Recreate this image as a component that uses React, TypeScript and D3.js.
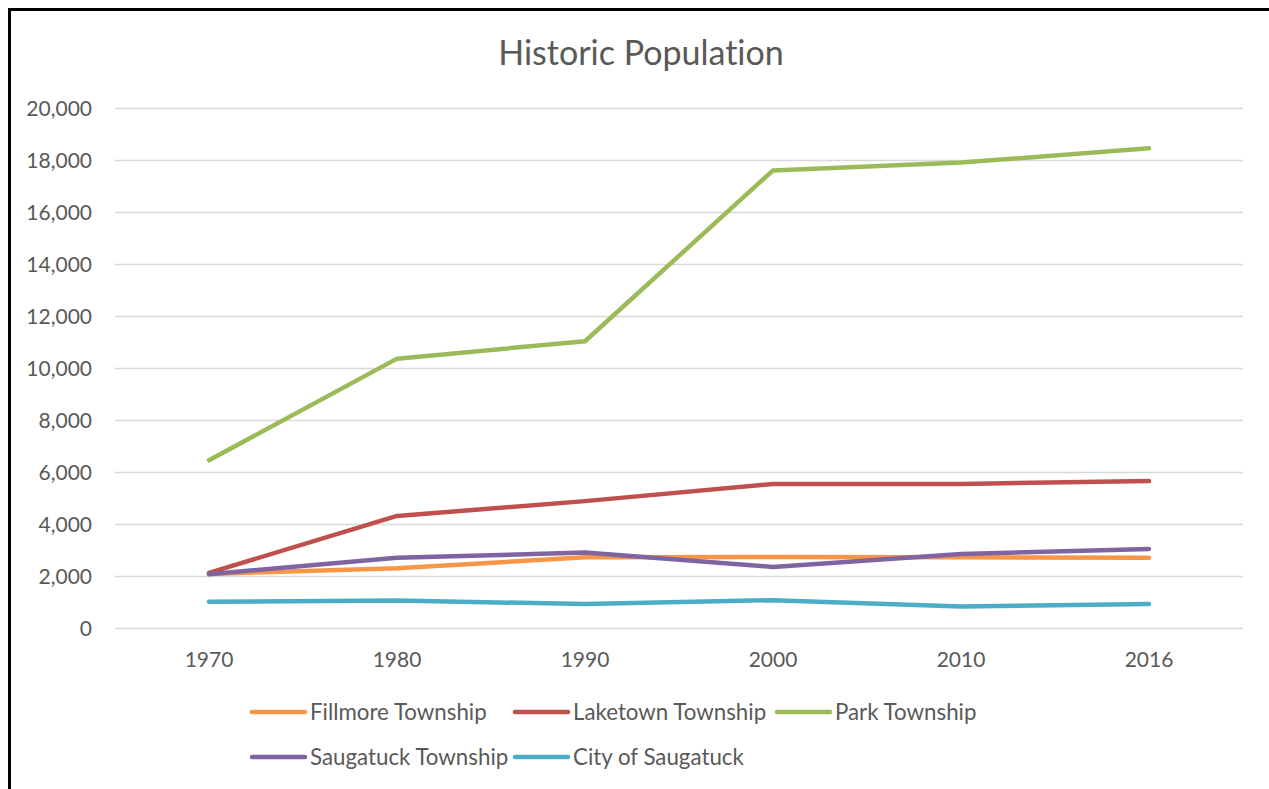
import React from "react";
import * as d3 from "d3";

const years = ["1970", "1980", "1990", "2000", "2010", "2016"];
const fillmore = [2080, 2300, 2720, 2730, 2720, 2700];
const laketown = [2120, 4310, 4880, 5540, 5540, 5650];
const park = [6450, 10360, 11030, 17600, 17900, 18450];
const saugatuckTwp = [2070, 2700, 2900, 2350, 2850, 3040];
const citySaugatuck = [1010, 1060, 920, 1070, 830, 920];
const yTicks = [0, 2000, 4000, 6000, 8000, 10000, 12000, 14000, 16000, 18000, 20000];

const seriesNames = ["Fillmore Township", "Laketown Township", "Park Township", "Saugatuck Township", "City of Saugatuck"];
const seriesValues = [fillmore, laketown, park, saugatuckTwp, citySaugatuck];
const colors = ["#F79646", "#C0504D", "#9BBB59", "#8064A2", "#4BACC6"];

const FONT = "Lato, 'Open Sans', sans-serif";
const TEXT = "#595959";

export default function App() {
  const x = d3.scaleBand<string>().domain(years).range([115, 1243]).padding(0);
  const y = d3.scaleLinear().domain([0, 20000]).range([628, 108]);
  const cx = (yr: string) => (x(yr) as number) + x.bandwidth() / 2;
  const line = d3
    .line<number>()
    .x((_, i) => cx(years[i]))
    .y((v) => y(v));
  const fmt = d3.format(",");

  const legendPos = [
    { lx: 252, ly: 712 },
    { lx: 515, ly: 712 },
    { lx: 777, ly: 712 },
    { lx: 252, ly: 757 },
    { lx: 515, ly: 757 },
  ];
  return (
    <svg
      width={1269}
      height={789}
      style={{ position: "absolute", left: 0, top: 0, background: "#fff", fontVariantLigatures: "none" }}
      fontFamily={FONT}
    >
      <rect x={0} y={0} width={1269} height={789} fill="#fff" />
      <rect x={9.5} y={9.5} width={1320} height={840} fill="none" stroke="#000" strokeWidth={3} />
      <text x={641} y={65} textAnchor="middle" fontSize={34} fill={TEXT}>
        Historic Population
      </text>
      {yTicks.map((t) => (
        <g key={t}>
          <line x1={115} x2={1243} y1={y(t) + 0.5} y2={y(t) + 0.5} stroke="#d9d9d9" strokeWidth={1.3} />
          <text x={92} y={y(t) + 8} textAnchor="end" fontSize={21} fill={TEXT}>
            {fmt(t)}
          </text>
        </g>
      ))}
      {years.map((yr) => (
        <text key={yr} x={cx(yr)} y={667} textAnchor="middle" fontSize={21} fill={TEXT}>
          {yr}
        </text>
      ))}
      {seriesValues.map((vals, i) => (
        <path
          key={seriesNames[i]}
          d={line(vals) || ""}
          fill="none"
          stroke={colors[i]}
          strokeWidth={4.5}
          strokeLinecap="round"
          strokeLinejoin="round"
        />
      ))}
      {seriesNames.map((name, i) => (
        <g key={name}>
          <line
            x1={legendPos[i].lx}
            x2={legendPos[i].lx + 53}
            y1={legendPos[i].ly}
            y2={legendPos[i].ly}
            stroke={colors[i]}
            strokeWidth={4.5}
            strokeLinecap="round"
          />
          <text x={legendPos[i].lx + 58} y={legendPos[i].ly + 8} fontSize={22.3} fill={TEXT}>
            {name}
          </text>
        </g>
      ))}
    </svg>
  );
}
